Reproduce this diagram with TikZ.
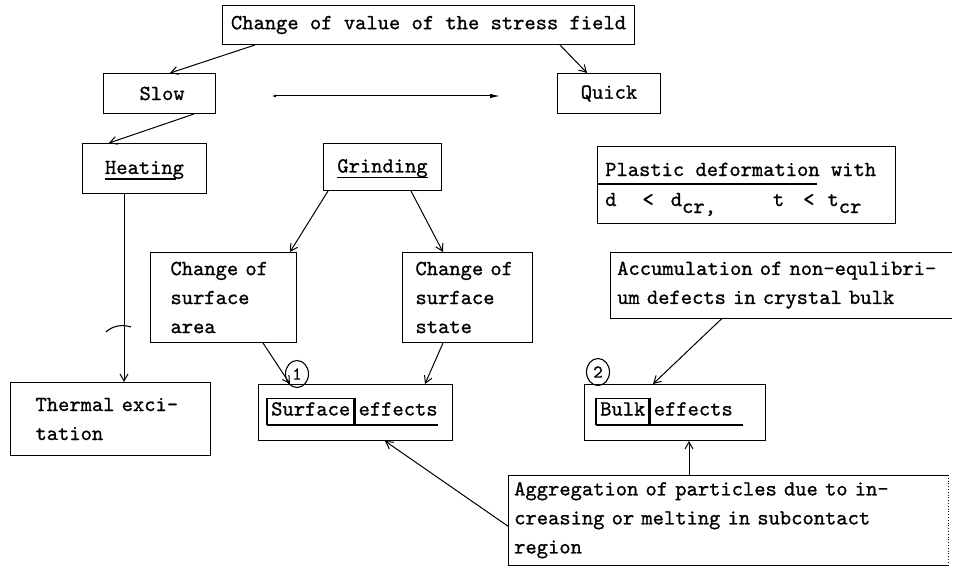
\documentclass[tikz,border=0pt]{standalone}
\usepackage{fontspec}
\usetikzlibrary{arrows.meta,shapes.geometric}
\newfontfamily\tyfont{lmmono10-regular.otf}[FakeBold=0.9]
\newcommand\diagfont{\tyfont\fontsize{21.5}{29}\selectfont}
\newcommand\numfont{\tyfont\fontsize{18}{18}\selectfont}
\begin{document}
\begin{tikzpicture}[x=1pt,y=-1pt,
  box/.style={draw, line width=1pt, inner sep=0pt, anchor=north west, font=\diagfont, align=left},
  openbox/.style={inner sep=0pt, anchor=north west, font=\diagfont, align=left},
  txt/.style={inner sep=0pt, font=\diagfont, text height=14pt, text depth=3pt},
  arr/.style={-{Straight Barb[length=7pt,width=8pt]}, line width=1pt},
  num/.style={draw, ellipse, line width=1.1pt, inner sep=0pt, minimum width=23pt, minimum height=27pt, font=\numfont},
]
\useasboundingbox (0,0) rectangle (959,567);

% boxes
\node[box, minimum width=412, minimum height=39] (top) at (222,5) {Change of value of the stress field};
\node[box, minimum width=112, minimum height=40, text width=40, inner xsep=36pt] (slow) at (103,73) {Slow};
\node[box, minimum width=103, minimum height=40] (quick) at (557,73) {Quick};

\node[box, minimum width=124, minimum height=50] (heat) at (82,143) {};
\node[txt] (heatT) at (heat.center) {Heating};
\node[box, minimum width=118, minimum height=47] (grind) at (323,143) {};
\node[txt] (grindT) at (grind.center) {Grinding};

\node[box, minimum width=298, minimum height=77] (plast) at (597,146) {};
\node[txt, anchor=base west] (plastA) at (605,176) {Plastic deformation with};
\node[txt, anchor=base west] (plastB) at (605,206) {d\hspace{26pt}<\hspace{17pt}d\raisebox{-7pt}{cr,}\hspace{57pt}t\hspace{19pt}<\hspace{13pt}t\raisebox{-7pt}{cr}};

\node[box, minimum width=146, minimum height=90, text width=106, inner xsep=20pt] (area) at (150,252) {Change of\\surface\\area};
\node[box, minimum width=130, minimum height=90, text width=104, inner xsep=13pt] (state) at (402,252) {Change of\\surface\\state};
\node[openbox, minimum height=66, text width=328, inner xsep=7pt] (acc) at (610,252) {Accumulation of non-equlibri-\\um defects in crystal bulk};

\node[box, minimum width=200, minimum height=73, text width=150, inner xsep=25pt] (therm) at (10,382) {Thermal exci-\\tation};

\node[box, minimum width=194, minimum height=56] (surf) at (258,384) {};
\node[txt, anchor=west] (surfW) at (271,410) {Surface};
\node[txt, anchor=west] (surfE) at ([xshift=8pt]surfW.east) {effects};
\node[box, minimum width=181, minimum height=56] (bulk) at (584,384) {};
\node[txt, anchor=west] (bulkW) at (600,410) {Bulk};
\node[txt, anchor=west] (bulkE) at ([xshift=8pt]bulkW.east) {effects};

\node[openbox, minimum height=90, text width=428, inner xsep=6pt] (agg) at (508,475) {Aggregation of particles due to in-\\creasing or melting in subcontact\\region};

\node[num] (c1) at (297,374) {1};
\node[num] (c2) at (598,372) {2};

% open boxes
\draw[line width=1pt] (acc.north east) -- (acc.north west) -- (acc.south west) -- (acc.south east);
\draw[line width=1pt] (agg.north east) -- (agg.north west) -- (agg.south west) -- (agg.south east);
\draw[line width=0.8pt, dotted] (agg.north east) -- (agg.south east);

% underlines and inner frames
\draw[line width=2.4pt] ([yshift=-2pt]heatT.south west) -- ([xshift=-8pt,yshift=-2pt]heatT.south east);
\draw[line width=1.6pt] ([yshift=-2pt]grindT.south west) -- ([yshift=-2pt]grindT.south east);
\draw[line width=1.4pt] ([yshift=-38pt]plast.north west) -- ++(220,0);

\draw[line width=2.4pt] ([xshift=-4pt,yshift=-6pt]surfW.south west) -- ([yshift=-6pt]surfE.south east);
\draw[line width=2.8pt] ([xshift=-4pt,yshift=-6pt]surfW.south west) -- ([xshift=-4pt,yshift=3pt]surfW.north west);
\draw[line width=1.2pt] ([xshift=-4pt,yshift=3pt]surfW.north west) -- ([xshift=4pt,yshift=3pt]surfW.north east);
\draw[line width=2.8pt] ([xshift=4pt,yshift=3pt]surfW.north east) -- ([xshift=4pt,yshift=-6pt]surfW.south east);

\draw[line width=2.4pt] ([xshift=-4pt,yshift=-6pt]bulkW.south west) -- ([xshift=10pt,yshift=-6pt]bulkE.south east);
\draw[line width=2.8pt] ([xshift=-4pt,yshift=-6pt]bulkW.south west) -- ([xshift=-4pt,yshift=3pt]bulkW.north west);
\draw[line width=1.2pt] ([xshift=-4pt,yshift=3pt]bulkW.north west) -- ([xshift=4pt,yshift=3pt]bulkW.north east);
\draw[line width=2.8pt] ([xshift=4pt,yshift=3pt]bulkW.north east) -- ([xshift=4pt,yshift=-6pt]bulkW.south east);

% double arrow
\coordinate (dl) at (272,96);
\coordinate (dr) at (500,96);
\draw[{Latex[length=4pt,width=3pt]}-{Latex[length=10pt,width=4.5pt]}, line width=1pt] (dl) -- (dr);

% connectors
\draw[arr] ([xshift=33pt]top.south west) -- ([xshift=67pt]slow.north west);
\draw[arr] ([xshift=338pt]top.south west) -- ([xshift=30pt]quick.north west);
\draw[arr] ([xshift=91pt]slow.south west) -- ([xshift=27pt]heat.north west);
\draw[arr] ([xshift=42pt]heat.south west) -- ([xshift=114pt]therm.north west);
\draw[arr] ([xshift=5pt]grind.south west) -- ([xshift=140pt]area.north west);
\draw[arr] ([xshift=88pt]grind.south west) -- ([xshift=41pt]state.north west);
\draw[arr] ([xshift=113pt]area.south west) -- ([xshift=32pt]surf.north west);
\draw[arr] ([xshift=41pt]state.south west) -- ([xshift=167pt]surf.north west);
\draw[arr] ([xshift=112pt]acc.south west) -- ([xshift=69pt]bulk.north west);
\draw[arr] ([xshift=181pt]agg.north west) -- ([xshift=105pt]bulk.south west);
\draw[arr] ([yshift=-6pt]agg.west) -- ([xshift=127pt]surf.south west);

% tick mark on the heating line
\draw[line width=1.1pt] (106,332) .. controls (112,326) and (122,324) .. (131,327);
\end{tikzpicture}
\end{document}
